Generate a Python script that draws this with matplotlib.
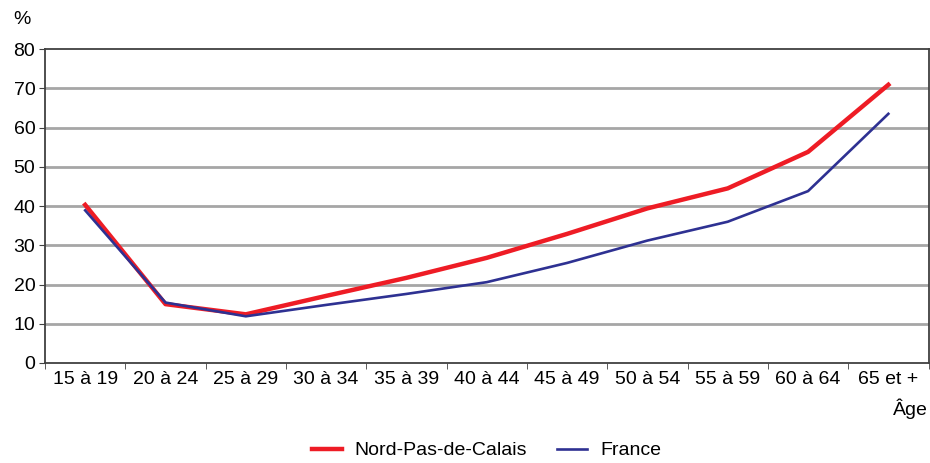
import matplotlib
matplotlib.use("Agg")
import matplotlib.pyplot as plt
import numpy as np

plt.rcParams["font.family"] = ["Liberation Sans", "DejaVu Sans"]

# Age groups and rates (%)
ages = ["15 à 19", "20 à 24", "25 à 29", "30 à 34", "35 à 39", "40 à 44",
        "45 à 49", "50 à 54", "55 à 59", "60 à 64", "65 et +"]
npdc = [40.3, 15.0, 12.4, 17.1, 21.7, 26.8, 32.9, 39.4, 44.5, 53.8, 70.9]
france = [38.9, 15.4, 11.9, 14.8, 17.6, 20.6, 25.5, 31.2, 36.0, 43.8, 63.5]

fig = plt.figure(figsize=(9.3, 4.63), dpi=100)
ax = fig.add_axes([0.0484, 0.216, 0.950, 0.678])

x = np.arange(len(ages))
for yv in range(10, 80, 10):
    ax.axhline(yv, color="#a6a6a6", lw=2, zorder=1)

ax.plot(x, npdc, color="#ee1c25", lw=3.2, label="Nord-Pas-de-Calais", zorder=3)
ax.plot(x, france, color="#2e3192", lw=1.9, label="France", zorder=3)

ax.set_xlim(-0.5, len(ages) - 0.5)
ax.set_ylim(0, 80)
ax.set_yticks(range(0, 81, 10))
ax.set_xticks(x)
ax.set_xticklabels(ages)
ax.set_xticks(np.arange(-0.5, len(ages)), minor=True)
ax.tick_params(axis="x", which="major", length=0, labelsize=14, pad=6)
ax.tick_params(axis="x", which="minor", length=4, color="#404040")
ax.tick_params(axis="y", length=4, labelsize=14, color="#404040", pad=3)

for s in ax.spines.values():
    s.set_color("#404040")
    s.set_linewidth(1.3)

fig.text(0.024, 0.957, "%", fontsize=14, ha="center", va="center")
fig.text(0.998, 0.118, "Âge", fontsize=14, ha="right", va="center")

fig.legend(loc="lower center", bbox_to_anchor=(0.523, -0.03), ncol=2,
           frameon=False, fontsize=14, handlelength=1.55, handletextpad=0.65,
           columnspacing=1.55)

fig.savefig("out.png", dpi=100)
